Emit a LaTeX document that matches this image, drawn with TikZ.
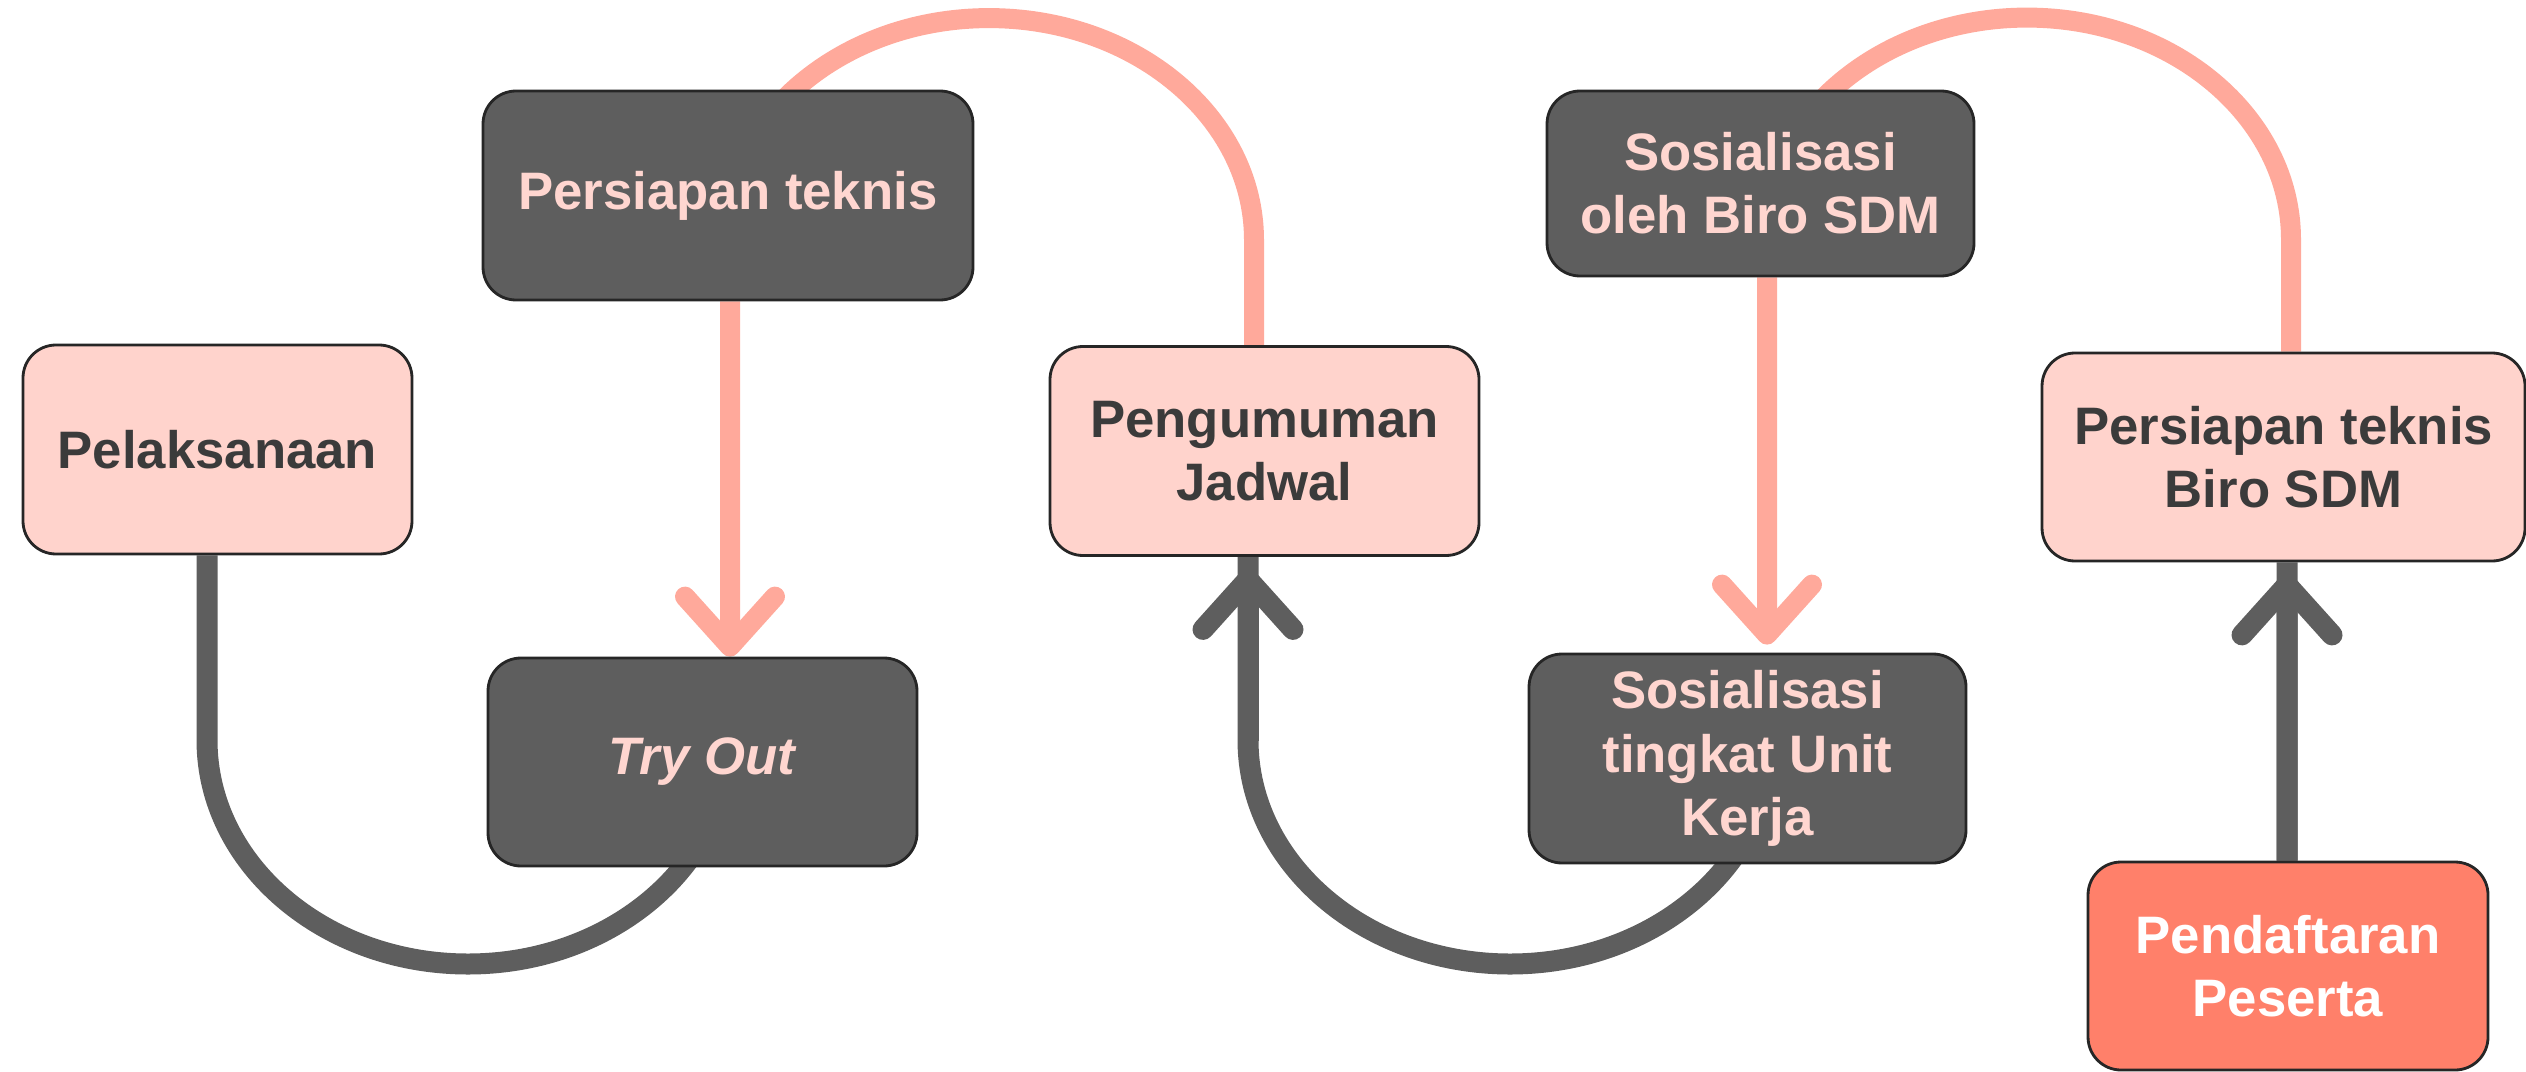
\documentclass[tikz,border=0pt]{standalone}
\usepackage{fontspec}
\setmainfont{Liberation Sans}
\usepackage{tikz}
\usetikzlibrary{arrows.meta}

\definecolor{boxgray}{HTML}{5E5E5E}
\definecolor{boxpink}{HTML}{FFD3CC}
\definecolor{boxcoral}{HTML}{FF806A}
\definecolor{textpink}{HTML}{FFD6D0}
\definecolor{textgray}{HTML}{3B3B3B}
\definecolor{edgegray}{HTML}{262626}
\definecolor{linepink}{HTML}{FFA99B}
\definecolor{linegray}{HTML}{5E5E5E}

\pgfdeclarelayer{background}
\pgfsetlayers{background,main}

\begin{document}
\begin{tikzpicture}[
	box/.style={
		shape=rectangle,
		draw=edgegray,
		line width=0.8pt,
		rounded corners=0.33cm,
		align=center,
		inner sep=0pt,
		minimum height=2.08cm,
		font=\bfseries\fontsize{15}{18}\selectfont},
	darkbox/.style={box, fill=boxgray, text=textpink},
	lightbox/.style={box, fill=boxpink, text=textgray},
	startbox/.style={box, fill=boxcoral, text=white},
	pinkline/.style={draw=linepink, line width=0.2cm},
	grayline/.style={draw=linegray, line width=0.21cm},
	barb/.style={-{Straight Barb[length=0.5cm, width=0.9cm, round]}}
	]
	\useasboundingbox (0,0) rectangle (25.26,-10.71);
	
	\node[lightbox, minimum width=3.89cm, minimum height=2.09cm] (pel) at (2.175,-4.495) {Pelaksanaan};
	\node[darkbox, minimum width=4.90cm, minimum height=2.09cm] (pt) at (7.28,-1.955) {Persiapan teknis};
	\node[darkbox, minimum width=4.29cm] (to) at (7.025,-7.62) {\textit{Try Out}};
	\node[lightbox, minimum width=4.29cm, minimum height=2.09cm] (pj) at (12.645,-4.51) {Pengumuman\\Jadwal};
	\node[darkbox, minimum width=4.27cm, minimum height=1.85cm] (sb) at (17.605,-1.835) {Sosialisasi\\oleh Biro SDM};
	\node[darkbox, minimum width=4.37cm, minimum height=2.09cm] (su) at (17.475,-7.585) {Sosialisasi\\tingkat Unit\\Kerja};
	\node[lightbox, minimum width=4.83cm] (pb) at (22.835,-4.57) {Persiapan teknis\\Biro SDM};
	\node[startbox, minimum width=4.00cm] (pp) at (22.88,-9.66) {Pendaftaran\\Peserta};
	
	\begin{pgfonlayer}{background}
		\draw[grayline] ([xshift=-0.01cm]pp.north) -- ([xshift=0.035cm]pb.south);
		\draw[grayline, barb, shorten >=0.12cm] ([xshift=-0.01cm]pp.north) -- ([xshift=0.035cm]pb.south);
		\draw[pinkline] ([xshift=0.075cm]pb.north) -- ++(0,1.12)
			arc[start angle=0, end angle=180, x radius=2.64cm, y radius=2.22cm];
		\draw[pinkline, barb, shorten >=0.08cm] ([xshift=0.065cm]sb.south) -- ([xshift=0.195cm]su.north);
		\draw[grayline] ([xshift=0.245cm, yshift=0.185cm]su.center)
			arc[start angle=0, end angle=-180, x radius=2.62cm, y radius=2.24cm]
			-- ([xshift=-0.165cm]pj.south);
		\draw[grayline, barb, shorten >=0.12cm] ([xshift=-0.165cm, yshift=-1.84cm]pj.south) -- ([xshift=-0.165cm]pj.south);
		\draw[pinkline] ([xshift=-0.105cm]pj.north) -- ++(0,1.05)
			arc[start angle=0, end angle=180, x radius=2.65cm, y radius=2.22cm];
		\draw[pinkline, barb] ([xshift=0.02cm]pt.south) -- ([xshift=0.275cm]to.north);
		\draw[grayline] ([xshift=0.265cm, yshift=0.22cm]to.center)
			arc[start angle=0, end angle=-180, x radius=2.61cm, y radius=2.24cm]
			-- ([xshift=-0.105cm]pel.south);
	\end{pgfonlayer}
\end{tikzpicture}
\end{document}
